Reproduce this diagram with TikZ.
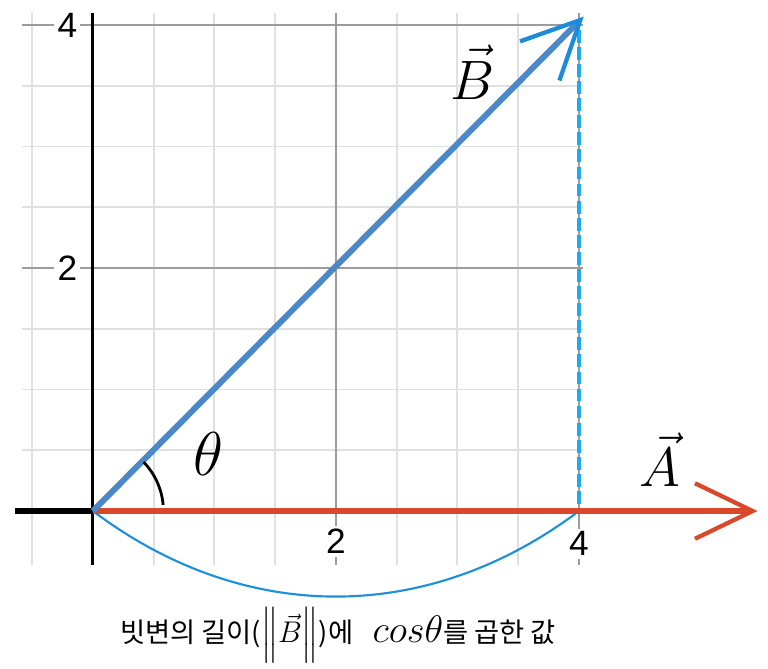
\RequirePackage{fix-cm}
\documentclass[tikz,border=0pt]{standalone}
\usepackage{fontspec}
\usepackage{amsmath}
\usetikzlibrary{arrows.meta}
\newfontfamily\krfont{Noto Sans CJK KR}
\newfontfamily\ticksf{Liberation Sans}
\definecolor{vecA}{HTML}{D9482B}
\definecolor{vecB}{HTML}{4A88C8}
\definecolor{vecBhead}{HTML}{1C8CD9}
\definecolor{projline}{HTML}{1FAAF0}
\definecolor{cosarc}{HTML}{1E8FDB}
\definecolor{gridminor}{HTML}{E0E0E0}
\definecolor{gridmajor}{HTML}{9C9C9C}
\tikzset{
  minorgrid/.style={draw=gridminor, line width=0.9pt},
  majorgrid/.style={draw=gridmajor, line width=0.9pt},
  axisline/.style={draw=black, line width=1.4pt},
  ticklabel/.style={font=\ticksf\fontsize{16.5}{16.5}\selectfont, fill=white, inner sep=1.5pt},
  veclabel/.style={font=\fontsize{26}{26}\selectfont, anchor=base, inner sep=0pt},
  caption/.style={font=\krfont\fontsize{12.8}{15}\selectfont, anchor=base, inner sep=0pt},
  barb/.style={-{Straight Barb[length=27pt, width=26pt, line width=2pt, #1]}},
  barb/.default={},
}

\begin{document}
\begin{tikzpicture}[x=2cm, y=2cm]
  \useasboundingbox (-0.765,-1.292) rectangle (5.556,4.206);
  % grid
  \foreach \x in {-0.5,0.5,1,1.5,2.5,3,3.5}
    \draw[minorgrid] (\x,-0.444) -- (\x,4.099);
  \foreach \y in {0.5,1,1.5,2.5,3,3.5}
    \draw[minorgrid] (-0.584,\y) -- (4.033,\y);
  \foreach \v in {2,4} {
    \draw[majorgrid] (\v,-0.444) -- (\v,4.099);
    \draw[majorgrid] (-0.584,\v) -- (4.033,\v);
  }
  % tick labels
  \node[ticklabel] (ty2) at (-0.21,2) {2};
  \node[ticklabel] (ty4) at (-0.21,4) {4};
  \node[ticklabel] (tx2) at (2,-0.25) {2};
  \node[ticklabel] (tx4) at (4,-0.27) {4};
  % axes
  \coordinate (O) at (0,0);
  \coordinate (ybot) at (0,-0.444);
  \coordinate (ytop) at (0,4.099);
  \coordinate (xleft) at (-0.642,0);
  \draw[axisline] (ybot) -- (ytop);
  \draw[black, line width=3pt] (xleft) -- (O);
  % projection of B onto A
  \coordinate (Afoot) at (4,0);
  \coordinate (Bdrop) at (4,3.96);
  \draw[cosarc, line width=1pt] (O) to[bend right=37] (Afoot);
  \draw[projline, line width=1.9pt, dash pattern=on 6pt off 2pt] (Bdrop) -- (Afoot);
  % vectors
  \coordinate (Atip) at (5.47,0);
  \coordinate (Btip) at (4.04,4.07);
  \draw[vecA, line width=3pt, barb] (O) -- (Atip);
  \draw[vecB, line width=2.8pt, barb={color=vecBhead}] (O) -- (Btip);
  % angle
  \draw[black, line width=1.3pt] ([shift={(44:0.58)}]O) arc[start angle=44, end angle=5, radius=0.58];
  \node[veclabel, font=\fontsize{29}{29}\selectfont] (theta) at (0.947,0.296) {$\theta$};
  \node[veclabel] (labB) at (3.128,3.391) {$\vec{B}$};
  \node[veclabel] (labA) at (4.667,0.198) {$\vec{A}$};
  % caption
  \node[caption] (cap) at (2.017,-1.086) {빗변의 길이({\fontsize{14}{14}\selectfont$\Big\|\vec{B}\Big\|$})에\hspace{9pt}{\fontsize{18}{18}\selectfont$cos\theta$}를 곱한 값};
\end{tikzpicture}
\end{document}
